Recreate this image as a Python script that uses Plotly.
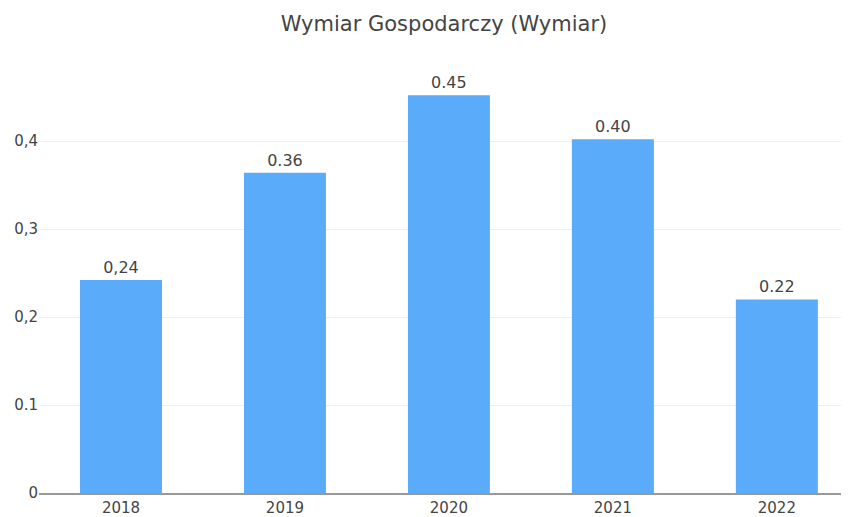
import plotly.graph_objects as go

years = ["2018", "2019", "2020", "2021", "2022"]
values = [0.242, 0.364, 0.452, 0.402, 0.220]
value_labels = ["0,24", "0.36", "0.45", "0.40", "0.22"]
y_ticks = [0, 0.1, 0.2, 0.3, 0.4]
y_tick_labels = ["0", "0.1", "0,2", "0,3", "0,4"]

fig = go.Figure()
fig.add_trace(go.Bar(
    x=years, y=values, text=value_labels, textposition="outside",
    textfont=dict(size=16, color="#444"), cliponaxis=False,
    marker=dict(color="#5aabfa", line=dict(width=0)), width=0.5,
))

fig.update_layout(
    title=dict(text="Wymiar Gospodarczy (Wymiar)", x=0.5, xref="paper", y=0.97,
               yanchor="middle", font=dict(size=21, color="#444")),
    font=dict(family="DejaVu Sans, Verdana, sans-serif", color="#444", size=15),
    width=841, height=509,
    margin=dict(l=31, r=0, t=45, b=20),
    plot_bgcolor="white", paper_bgcolor="white",
    showlegend=False, bargap=0.5,
)
fig.update_xaxes(range=[-0.5, 4.44], showline=True, linecolor="#999", linewidth=2,
                 showgrid=False, ticks="", tickfont=dict(size=15, color="#444"))
fig.update_yaxes(range=[0, 0.5], tickvals=y_ticks, ticktext=y_tick_labels,
                 showgrid=True, gridcolor="#eeeeee", zeroline=False,
                 showline=False, ticks="", tickfont=dict(size=15, color="#444"))

fig.write_html("out.html")
